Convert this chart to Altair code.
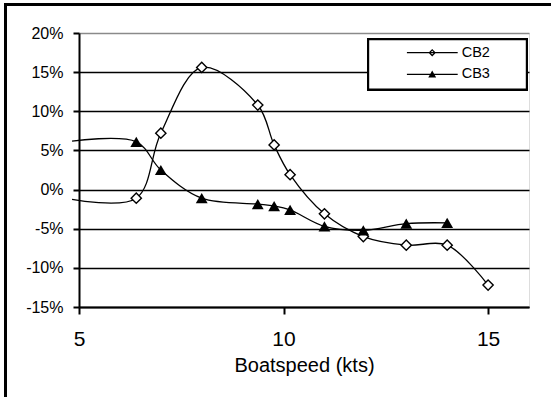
import altair as alt
import pandas as pd

# Boatspeed (kts) at which both configurations were measured
speed = [6.4, 7.0, 8.0, 9.37, 9.77, 10.16, 11.0, 11.95, 13.0, 14.0, 15.0]
cb2 = [-1.1, 7.2, 15.6, 10.8, 5.7, 1.9, -3.1, -6.0, -7.1, -7.1, -12.2]
cb3_speed = [6.4, 7.0, 8.0, 9.37, 9.77, 10.16, 11.0, 11.95, 13.0, 14.0]
cb3 = [6.1, 2.5, -1.1, -1.85, -2.1, -2.6, -4.7, -5.2, -4.35, -4.25]

# curves run in from a reading just below the axis minimum (no marker there)
lead_speed = 4.83
cb2_lead = -1.25
cb3_lead = 6.2

series_names = ["CB2", "CB3"]
y_ticks = [-15, -10, -5, 0, 5, 10, 15, 20]
x_ticks = [5, 10, 15]

rows = []
rows.append({"series": "CB2", "speed": lead_speed, "value": cb2_lead, "marker": False})
for s, v in zip(speed, cb2):
    rows.append({"series": "CB2", "speed": s, "value": v, "marker": True})
rows.append({"series": "CB3", "speed": lead_speed, "value": cb3_lead, "marker": False})
for s, v in zip(cb3_speed, cb3):
    rows.append({"series": "CB3", "speed": s, "value": v, "marker": True})
df = pd.DataFrame(rows)

FONT = "Liberation Sans"

x_enc = alt.X(
    "speed:Q",
    scale=alt.Scale(domain=[5, 16], nice=False, zero=False),
    axis=alt.Axis(
        values=x_ticks,
        title="Boatspeed (kts)",
        grid=False,
        labelFlush=False,
        domainColor="black",
        domainWidth=2,
        tickColor="black",
        tickWidth=2,
        tickSize=7,
        labelFontSize=21,
        labelPadding=14,
        labelColor="black",
        labelFont=FONT,
        titleFont=FONT,
        titleFontSize=20,
        titleFontWeight="normal",
        titleColor="black",
        titleBaseline="alphabetic",
        titleY=64,
    ),
)
y_enc = alt.Y(
    "value:Q",
    scale=alt.Scale(domain=[-15, 20], nice=False, zero=False),
    axis=alt.Axis(
        values=y_ticks,
        title=None,
        labelExpr="datum.value + '%'",
        labelFlush=False,
        grid=True,
        gridColor={"condition": {"test": "datum.value >= 20", "value": "#8a8a8a"}, "value": "black"},
        gridWidth=1.5,
        domainColor="black",
        domainWidth=2,
        tickColor="black",
        tickWidth=2,
        tickSize=6,
        labelFontSize=16,
        labelPadding=10,
        labelColor="black",
        labelFont=FONT,
    ),
)

base = alt.Chart(df)

# outer chart frame
frame = base.mark_rect(
    fill="white", fillOpacity=0, stroke="black", strokeWidth=2.5, clip=False
).encode(
    x=alt.value(-73.7), x2=alt.value(480), y=alt.value(-28.3), y2=alt.value(375)
)

# legend box
legend_box = base.mark_rect(
    fill="white", stroke="black", strokeWidth=1.8, clip=False
).encode(
    x=alt.value(289.3), x2=alt.value(447.7), y=alt.value(6.3), y2=alt.value(56.3)
)

lines = base.mark_line(
    interpolate="catmull-rom", color="black", strokeWidth=1.3, clip=False
).encode(x=x_enc, y=y_enc, detail="series:N", order="speed:Q")

cb2_pts = base.transform_filter(
    "datum.marker && datum.series == 'CB2'"
).mark_point(
    shape="diamond", size=105, fill="white", filled=True, stroke="black",
    strokeWidth=1.4, opacity=1
).encode(x=x_enc, y=y_enc)

cb3_pts = base.transform_filter(
    "datum.marker && datum.series == 'CB3'"
).mark_point(
    shape="triangle-up", size=140, filled=True, color="black", opacity=1
).encode(x=x_enc, y=y_enc)

# legend symbols: line sample with the series marker in the middle
line_bar = "M-1,-0.024L1,-0.024L1,0.024L-1,0.024Z"
diamond_ring = ("M0,-0.145L0.145,0L0,0.145L-0.145,0Z"
                "M0,-0.075L-0.075,0L0,0.075L0.075,0Z")
triangle = "M0,-0.15L0.155,0.13L-0.155,0.13Z"
legend_layer = base.transform_filter("false").mark_point(
    filled=True, color="black", opacity=1, size=2601, strokeWidth=0
).encode(
    x=x_enc,
    y=y_enc,
    shape=alt.Shape(
        "series:N",
        scale=alt.Scale(domain=series_names,
                        range=[line_bar + diamond_ring, line_bar + triangle]),
        legend=alt.Legend(
            title=None,
            orient="none",
            legendX=327.7,
            legendY=12.7,
            padding=0,
            clipHeight=14,
            rowPadding=6.6,
            symbolSize=2601,
            symbolStrokeWidth=0,
            symbolFillColor="black",
            symbolOpacity=1,
            labelOffset=4,
            labelFontSize=14.5,
            labelFont=FONT,
            labelColor="black",
        ),
    ),
)

chart = alt.layer(
    frame, legend_box, lines, cb2_pts, cb3_pts, legend_layer
).properties(
    width=450,
    height=274,
    autosize=alt.AutoSizeParams(type="none"),
    padding={"left": 79, "top": 33, "right": 22, "bottom": 90},
    background="white",
).configure_view(
    stroke="#8a8a8a", strokeWidth=2
).configure(
    font=FONT
)

chart.save("out.html", embed_options={"renderer": "svg", "actions": False})
